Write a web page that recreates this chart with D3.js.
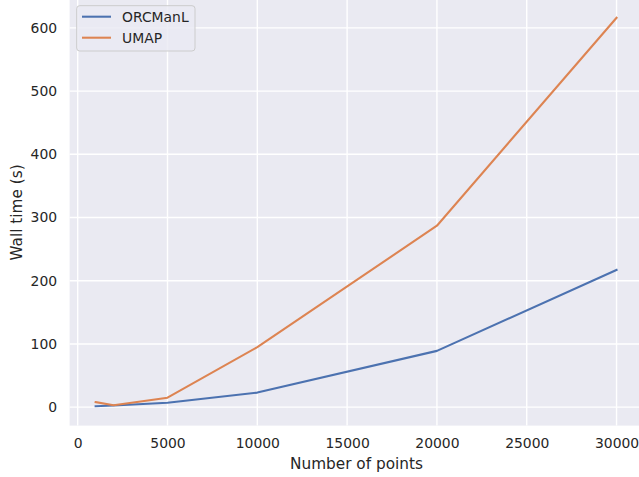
<!DOCTYPE html>
<html>
<head>
<meta charset="utf-8">
<script src="https://cdn.jsdelivr.net/npm/d3@7"></script>
<style>
    html, body { margin: 0; padding: 0; background: #ffffff; }
    svg { display: block; font-family: "DejaVu Sans", sans-serif; }
</style>
</head>
<body>
<div id="chart"></div>
<script>
// ── Data ─────────────────────────────────────────────
const nPoints = [1000, 2000, 5000, 10000, 20000, 30000];
const orcmanlTime = [1.5, 2.5, 7, 23, 89, 217];
const umapTime = [8, 3, 15, 95, 287, 616];

const xTicks = [0, 5000, 10000, 15000, 20000, 25000, 30000];
const yTicks = [0, 100, 200, 300, 400, 500, 600];

const seriesNames = ['ORCManL', 'UMAP'];
const seriesColors = ['#4c72b0', '#dd8452'];

// ── Layout ───────────────────────────────────────────
const W = 639, H = 477;
const plot = { left: 69.6, right: 642.6, top: -1.7, bottom: 425.6 };

const svg = d3.select('#chart')
    .append('svg')
    .attr('width', W)
    .attr('height', H)
    .style('overflow', 'hidden');

// matplotlib-style 5% margins around the data
const x = d3.scaleLinear().domain([-450, 31450]).range([plot.left, plot.right]);
const y = d3.scaleLinear().domain([-29.2, 646.8]).range([plot.bottom, plot.top]);

// Background
svg.append('rect')
    .attr('x', plot.left)
    .attr('y', plot.top)
    .attr('width', plot.right - plot.left)
    .attr('height', plot.bottom - plot.top)
    .attr('fill', '#eaeaf2');

// Grid
const grid = svg.append('g');
grid.selectAll('line.vx')
    .data(xTicks)
    .enter()
    .append('line')
    .attr('x1', d => x(d)).attr('x2', d => x(d))
    .attr('y1', plot.top).attr('y2', plot.bottom)
    .attr('stroke', '#ffffff')
    .attr('stroke-width', 1.4);
grid.selectAll('line.hy')
    .data(yTicks)
    .enter()
    .append('line')
    .attr('x1', plot.left).attr('x2', plot.right)
    .attr('y1', d => y(d)).attr('y2', d => y(d))
    .attr('stroke', '#ffffff')
    .attr('stroke-width', 1.4);

// Axes (no spines, no tick marks)
const xAxis = svg.append('g')
    .attr('transform', `translate(0,${plot.bottom})`)
    .call(d3.axisBottom(x).tickValues(xTicks).tickFormat(d3.format('d')).tickSize(0).tickPadding(13));
const yAxis = svg.append('g')
    .attr('transform', `translate(${plot.left},0)`)
    .call(d3.axisLeft(y).tickValues(yTicks).tickFormat(d3.format('d')).tickSize(0).tickPadding(12.5));

[xAxis, yAxis].forEach(ax => {
    ax.select('.domain').remove();
    ax.selectAll('text')
        .style('font-family', '"DejaVu Sans", sans-serif')
        .style('font-size', '13.9px')
        .attr('fill', '#262626');
});

// Axis labels
svg.append('text')
    .attr('x', 356.5)
    .attr('y', 469)
    .attr('text-anchor', 'middle')
    .style('font-size', '15.3px')
    .attr('fill', '#262626')
    .text('Number of points');

svg.append('text')
    .attr('transform', `translate(22,${(0 + 425) / 2}) rotate(-90)`)
    .attr('text-anchor', 'middle')
    .style('font-size', '15.3px')
    .attr('fill', '#262626')
    .text('Wall time (s)');

// Lines
const series = [orcmanlTime, umapTime];
const line = d3.line()
    .x((d, i) => x(nPoints[i]))
    .y(d => y(d));

svg.append('g')
    .selectAll('path')
    .data(series)
    .enter()
    .append('path')
    .attr('d', d => line(d))
    .attr('fill', 'none')
    .attr('stroke', (d, i) => seriesColors[i])
    .attr('stroke-width', 2.08)
    .attr('stroke-linecap', 'square')
    .attr('stroke-linejoin', 'round');

// Legend
const legend = svg.append('g');
legend.append('rect')
    .attr('x', 76.7)
    .attr('y', 5.7)
    .attr('width', 118.3)
    .attr('height', 45.3)
    .attr('rx', 3)
    .attr('fill', 'rgba(234,234,242,0.8)')
    .attr('stroke', '#cccccc')
    .attr('stroke-width', 1);

const item = legend.selectAll('g.item')
    .data(seriesNames)
    .enter()
    .append('g')
    .attr('transform', (d, i) => `translate(0,${16.7 + i * 21})`);
item.append('line')
    .attr('x1', 82).attr('x2', 111)
    .attr('y1', 0).attr('y2', 0)
    .attr('stroke', (d, i) => seriesColors[i])
    .attr('stroke-width', 2.08);
item.append('text')
    .attr('x', 122)
    .attr('y', 5.5)
    .style('font-size', '13.9px')
    .attr('fill', '#262626')
    .text(d => d);
</script>
</body>
</html>
